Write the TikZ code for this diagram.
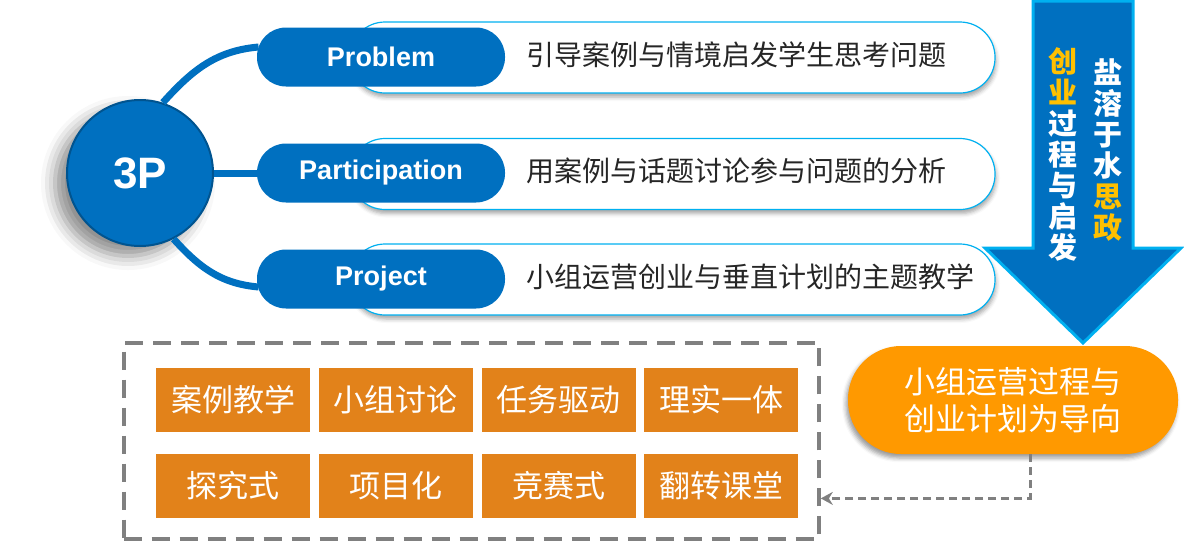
\documentclass[tikz,border=0pt]{standalone}
\usepackage{fontspec}
\setmainfont{Liberation Sans}
\newfontfamily\cjk{Noto Sans CJK SC}
\usetikzlibrary{positioning, calc, fit, arrows.meta, shadows.blur}

\definecolor{pblue}{HTML}{0070C0}
\definecolor{lblue}{HTML}{00B0F0}
\definecolor{porange}{HTML}{FF9900}
\definecolor{tileorange}{HTML}{E2821A}
\definecolor{gold}{HTML}{FFC000}
\definecolor{dgray}{HTML}{808080}

\begin{document}
\begin{tikzpicture}[
  x=0.5pt, y=-0.5pt, % one unit is one pixel of the layout, y downwards
  every node/.style={draw=none, inner sep=0pt},
  descbox/.style={
    rectangle, rounded corners=17.5pt, draw=lblue, line width=0.6pt, fill=white,
    minimum width=322.5pt, minimum height=35.5pt,
    blur shadow={shadow xshift=0.5pt, shadow yshift=-2pt,
      shadow opacity=35, shadow blur radius=2pt},
  },
  desc/.style={anchor=west, text=black!85, font=\cjk\fontsize{14pt}{16pt}\selectfont},
  pill/.style={
    rectangle, rounded corners=14.5pt, fill=pblue,
    minimum width=124pt, minimum height=29.5pt,
    text=white, font=\bfseries\fontsize{13.5pt}{16pt}\selectfont,
  },
  link/.style={draw=pblue, line width=3.5pt},
  tile/.style={
    rectangle, fill=tileorange, minimum width=77pt, minimum height=32pt,
    text=white, font=\cjk\fontsize{15.5pt}{18pt}\selectfont,
  },
  column/.style={align=center, text=white,
    font=\cjk\bfseries\fontsize{14.5pt}{15.5pt}\selectfont},
  dline/.style={draw=dgray, line width=1.5pt, dash pattern=on 4pt off 2.5pt,
    -{Stealth[length=6pt, width=6.5pt]}}, % small grey tip
]
  \useasboundingbox (0,0) rectangle (1184,541);

  % description boxes
  \node[descbox] (boxA) at (672.5,57.5) {};
  \node[descbox] (boxB) at (672.5,174) {};
  \node[descbox] (boxC) at (672.5,279.5) {};
  %% texts
  \node[desc] (txtA) at ([xshift=88.5pt, yshift=1.5pt]boxA.west) {引导案例与情境启发学生思考问题};
  \node[desc] (txtB) at ([xshift=88.5pt, yshift=1.5pt]boxB.west) {用案例与话题讨论参与问题的分析};
  \node[desc] (txtC) at ([xshift=88.5pt, yshift=1.5pt]boxC.west) {小组运营创业与垂直计划的主题教学};

  % the three P
  \node[pill] (pprob) at (381,57) {Problem};
  \node[pill] (ppart) at (381,173) {Participation};
  \node[pill] (pproj) at (381,279) {Project};

  % 3P circle
  \node[
    circle, fill=pblue, draw=pblue!75!black, line width=1pt, minimum size=73pt,
    text=white, font=\bfseries\fontsize{22pt}{26pt}\selectfont,
    blur shadow={shadow xshift=-6pt, shadow yshift=-5pt,
      shadow opacity=45, shadow blur radius=7pt},
  ] (c3p) at (140,173) {3P};

  %% links, same blue as circle and pills
  \draw[link] (c3p.72) to[out=48, in=185] ([shift={(1pt,5pt)}]pprob.west);
  \draw[link] (c3p.east) -- (ppart.west);
  \draw[link] (c3p.-63) to[out=-48, in=175] ([shift={(1pt,-4pt)}]pproj.west);

  % big arrow
  \draw[fill=pblue, draw=lblue, line width=1.5pt, line join=miter]
    (1033,1) -- (1033,248) -- (985,248) -- (1083,343)
    -- (1181,248) -- (1133,248) -- (1133,1) -- cycle;
  %% vertical texts
  \node[column] (colR) at (1108,150)
    {盐\\溶\\于\\水\\\textcolor{gold}{思}\\\textcolor{gold}{政}};
  \node[column] (colL) at (1063,154)
    {\textcolor{gold}{创}\\\textcolor{gold}{业}\\过\\程\\与\\启\\发};

  % orange goal
  \node[
    rectangle, rounded corners=26.5pt, fill=porange,
    minimum width=165pt, minimum height=54pt,
    text=white, align=center, font=\cjk\fontsize{15.5pt}{18.5pt}\selectfont,
    blur shadow={shadow xshift=-1pt, shadow yshift=-2pt, shadow opacity=40},
  ] (opill) at (1013,400) {小组运营过程与\\创业计划为导向};

  % methods
  \node[tile] (t11) at (233,400) {案例教学};
  \node[tile, right=4pt of t11] (t12) {小组讨论};
  \node[tile, right=4pt of t12] (t13) {任务驱动};
  \node[tile, right=4pt of t13] (t14) {理实一体};
  \node[tile, below=10.5pt of t11] (t21) {探究式};
  \node[tile, right=4pt of t21] (t22) {项目化};
  \node[tile, right=4pt of t22] (t23) {竞赛式};
  \node[tile, right=4pt of t23] (t24) {翻转课堂};
  %% dashed frame
  \node[
    draw=dgray, line width=2pt, dash pattern=on 9pt off 5pt,
    fit=(t11)(t24), inner xsep=13pt, inner ysep=11.5pt, xshift=-3pt, yshift=1pt,
  ] (mbox) {};

  % back to the methods
  \draw[dline] ([xshift=8.5pt]opill.south) |- ([yshift=-28.75pt]mbox.east);

\end{tikzpicture}
\end{document}
